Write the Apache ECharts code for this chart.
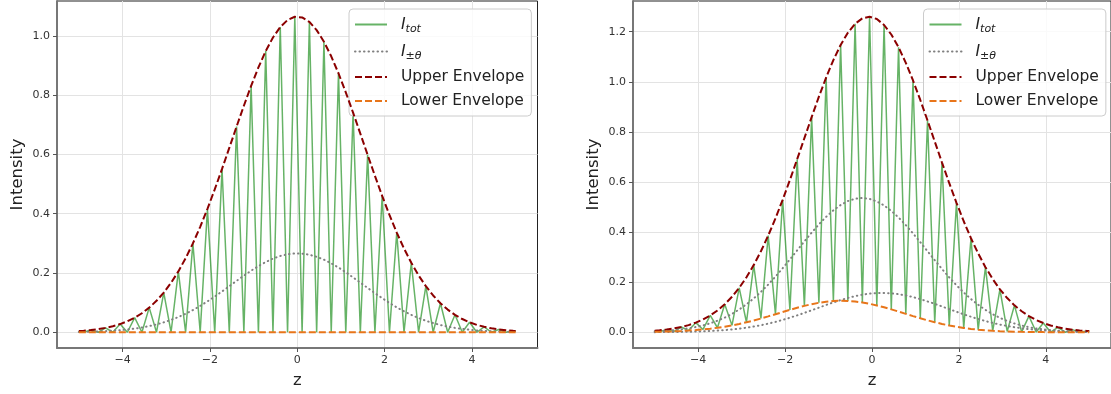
<!DOCTYPE html>
<html><head><meta charset="utf-8">
<script src="https://cdn.jsdelivr.net/npm/echarts@6/dist/echarts.min.js"></script>
<style>html,body{margin:0;padding:0;background:#fff}#c{width:1111px;height:394px}</style>
</head><body><div id="c"></div>
<script>
// ---- data ----
const zValues = [-5, -4.889, -4.722, -4.556, -4.389, -4.222, -4.056, -3.889, -3.722, -3.556, -3.389, -3.222, -3.056, -2.889, -2.722, -2.556, -2.389, -2.222, -2.056, -1.889, -1.722, -1.556, -1.389, -1.222, -1.056, -0.889, -0.722, -0.556, -0.389, -0.222, -0.056, 0.111, 0.278, 0.444, 0.611, 0.778, 0.944, 1.111, 1.278, 1.444, 1.611, 1.778, 1.944, 2.111, 2.278, 2.444, 2.611, 2.778, 2.944, 3.111, 3.278, 3.444, 3.611, 3.778, 3.944, 4.111, 4.278, 4.444, 4.611, 4.778, 4.944, 5];

const leftTotal = [0.0031, 0, 0.0075, 0, 0.0147, 0, 0.0275, 0, 0.0490, 0, 0.0830, 0, 0.1337, 0, 0.2052, 0, 0.2997, 0, 0.4163, 0, 0.5510, 0, 0.6937, 0, 0.8312, 0, 0.9485, 0, 1.0297, 0, 1.0643, 0, 1.0469, 0, 0.9802, 0, 0.8737, 0, 0.7409, 0, 0.5983, 0, 0.4599, 0, 0.3362, 0, 0.2342, 0, 0.1552, 0, 0.0978, 0, 0.0587, 0, 0.0335, 0, 0.0182, 0, 0.0094, 0, 0.0047, 0.0031];
const leftTheta = [0.00103, 0.00131, 0.00188, 0.00264, 0.00368, 0.00506, 0.00687, 0.00923, 0.01225, 0.01602, 0.02073, 0.02648, 0.03338, 0.04163, 0.05126, 0.06232, 0.07485, 0.08879, 0.10398, 0.12037, 0.13763, 0.15532, 0.17327, 0.19088, 0.20761, 0.22315, 0.2369, 0.24834, 0.2572, 0.2631, 0.26581, 0.26528, 0.26148, 0.25459, 0.24483, 0.23251, 0.21823, 0.20219, 0.18506, 0.16734, 0.14944, 0.13178, 0.11486, 0.09882, 0.08398, 0.07054, 0.05849, 0.04788, 0.03876, 0.03096, 0.02442, 0.01905, 0.01466, 0.01115, 0.00838, 0.00622, 0.00455, 0.0033, 0.00236, 0.00167, 0.00116, 0.00103];
const leftUpper = [0.0041, 0.0053, 0.0075, 0.0106, 0.0147, 0.0203, 0.0275, 0.0370, 0.0490, 0.0641, 0.0830, 0.1060, 0.1337, 0.1667, 0.2052, 0.2495, 0.2997, 0.3555, 0.4163, 0.4819, 0.5510, 0.6219, 0.6937, 0.7642, 0.8312, 0.8934, 0.9485, 0.9943, 1.0297, 1.0534, 1.0643, 1.0621, 1.0469, 1.0193, 0.9802, 0.9309, 0.8737, 0.8095, 0.7409, 0.6700, 0.5983, 0.5276, 0.4599, 0.3956, 0.3362, 0.2824, 0.2342, 0.1917, 0.1552, 0.1240, 0.0978, 0.0763, 0.0587, 0.0446, 0.0335, 0.0249, 0.0182, 0.0132, 0.0094, 0.0067, 0.0047, 0.0041];
const leftLower = [0, 0, 0, 0, 0, 0, 0, 0, 0, 0, 0, 0, 0, 0, 0, 0, 0, 0, 0, 0, 0, 0, 0, 0, 0, 0, 0, 0, 0, 0, 0, 0, 0, 0, 0, 0, 0, 0, 0, 0, 0, 0, 0, 0, 0, 0, 0, 0, 0, 0, 0, 0, 0, 0, 0, 0, 0, 0, 0, 0, 0, 0];

const rightTotal = [0.0049, 0.00194, 0.01077, 0.00365, 0.02078, 0.00653, 0.03819, 0.01108, 0.06694, 0.01784, 0.11156, 0.02734, 0.17706, 0.03972, 0.26797, 0.05479, 0.38572, 0.07179, 0.52872, 0.08919, 0.69078, 0.10511, 0.85875, 0.11753, 1.01675, 0.12452, 1.14687, 0.12503, 1.23152, 0.11888, 1.25944, 0.10701, 1.22656, 0.09113, 1.13772, 0.07330, 1.00507, 0.05572, 0.84515, 0.03995, 0.67718, 0.02695, 0.51677, 0.01711, 0.37524, 0.01019, 0.25973, 0.00567, 0.17123, 0.00294, 0.10735, 0.00142, 0.06420, 0.00063, 0.03656, 0.00025, 0.01980, 0.00009, 0.01023, 0.00003, 0.00503, 0.0033];
const rightThetaPlus = [0.00341, 0.00431, 0.00605, 0.00838, 0.01148, 0.01553, 0.02072, 0.02735, 0.03567, 0.04586, 0.05835, 0.07331, 0.09086, 0.11138, 0.13484, 0.16107, 0.19024, 0.22192, 0.25547, 0.29075, 0.32682, 0.36261, 0.39764, 0.43070, 0.46057, 0.48666, 0.50790, 0.52347, 0.53297, 0.53597, 0.53238, 0.52230, 0.50609, 0.48451, 0.45803, 0.42764, 0.39457, 0.35941, 0.32335, 0.28754, 0.25238, 0.21878, 0.18751, 0.15858, 0.13247, 0.10942, 0.08916, 0.07177, 0.05713, 0.04486, 0.03479, 0.02669, 0.02020, 0.01509, 0.01116, 0.00814, 0.00586, 0.00418, 0.00293, 0.00204, 0.00140, 0.00123];
const rightThetaMinus = [0.00036, 0.00046, 0.00068, 0.00097, 0.00137, 0.00192, 0.00265, 0.00362, 0.00488, 0.00649, 0.00855, 0.01111, 0.01425, 0.01807, 0.02264, 0.02797, 0.03419, 0.04127, 0.04915, 0.05787, 0.06731, 0.07727, 0.08768, 0.09825, 0.10870, 0.11885, 0.12834, 0.13684, 0.14416, 0.15001, 0.15414, 0.15648, 0.15690, 0.15539, 0.15199, 0.14684, 0.14016, 0.13210, 0.12298, 0.11313, 0.10275, 0.09216, 0.08171, 0.07151, 0.06181, 0.05282, 0.04454, 0.03709, 0.03055, 0.02482, 0.01991, 0.01581, 0.01238, 0.00957, 0.00732, 0.00552, 0.00412, 0.00303, 0.00221, 0.00158, 0.00112, 0.00100];
const rightUpper = [0.00599, 0.00760, 0.01077, 0.01503, 0.02078, 0.02836, 0.03819, 0.05087, 0.06694, 0.08687, 0.11156, 0.14150, 0.17706, 0.21916, 0.26797, 0.32328, 0.38572, 0.45457, 0.52872, 0.60806, 0.69078, 0.77465, 0.85875, 0.94038, 1.01675, 1.08649, 1.14687, 1.19559, 1.23152, 1.25308, 1.25944, 1.25055, 1.22656, 1.18867, 1.13772, 1.07566, 1.00507, 0.92731, 0.84515, 0.76140, 0.67718, 0.59493, 0.51677, 0.44306, 0.37524, 0.31427, 0.25973, 0.21205, 0.17123, 0.13641, 0.10735, 0.08358, 0.06420, 0.04870, 0.03656, 0.02707, 0.01980, 0.01433, 0.01023, 0.00721, 0.00503, 0.00444];
const rightLower = [0.00156, 0.00194, 0.00268, 0.00365, 0.00492, 0.00653, 0.00855, 0.01108, 0.01416, 0.01784, 0.02223, 0.02734, 0.03315, 0.03972, 0.04699, 0.05479, 0.06313, 0.07179, 0.08051, 0.08919, 0.09749, 0.10511, 0.11188, 0.11753, 0.12177, 0.12452, 0.12561, 0.12503, 0.12275, 0.11888, 0.11359, 0.10701, 0.09941, 0.09113, 0.08232, 0.07330, 0.06440, 0.05572, 0.04751, 0.03995, 0.03306, 0.02695, 0.02166, 0.01711, 0.01331, 0.01019, 0.00767, 0.00567, 0.00413, 0.00294, 0.00206, 0.00142, 0.00095, 0.00063, 0.00040, 0.00025, 0.00015, 0.00009, 0.00005, 0.00003, 0.00001, 0.00001];

const xTicks = [-4, -2, 0, 2, 4];
const yTicksLeft = [0, 0.2, 0.4, 0.6, 0.8, 1.0];
const yTicksRight = [0, 0.2, 0.4, 0.6, 0.8, 1.0, 1.2];
const seriesNames = ['I_tot', 'I_theta', 'Upper Envelope', 'Lower Envelope'];

// ---- chart ----
const F = 'DejaVu Sans';
const chart = echarts.init(document.getElementById('c'), null, {renderer: 'canvas'});

const styles = {
  'I_tot': {color: 'rgba(0,128,0,0.6)', width: 1.5, type: 'solid'},
  'I_theta': {color: '#808080', width: 2, type: [0.5, 4], cap: 'round'},
  'Upper Envelope': {color: '#8b0000', width: 2, type: [7, 3]},
  'Lower Envelope': {color: '#e8751a', width: 2, type: [7, 3]}
};
function mk(name, gi, arr, z) {
  const st = styles[name];
  return {
    type: 'line', name: name, xAxisIndex: gi, yAxisIndex: gi,
    data: zValues.map((v, i) => [v, arr[i]]),
    symbol: 'none', showSymbol: false, smooth: false, silent: true,
    color: st.color, itemStyle: {color: st.color},
    lineStyle: st, z: z, animation: false
  };
}
function xAx(gi) {
  return {
    type: 'value', gridIndex: gi, min: -5.5, max: 5.5,
    name: 'z', nameLocation: 'middle', nameGap: 24,
    nameTextStyle: {fontSize: 16.5, color: '#222', fontFamily: F},
    axisLine: {show: true, onZero: false, lineStyle: {color: '#777', width: 2}},
    axisTick: {show: true, length: 4, customValues: xTicks, lineStyle: {color: '#555', width: 1}},
    axisLabel: {customValues: xTicks, fontSize: 11, color: '#333', fontFamily: F, margin: 7,
      formatter: v => String(v).replace('-', '\u2212')},
    splitLine: {show: true, lineStyle: {color: '#e3e3e3', width: 1}}
  };
}
function yAx(gi, mn, mx, ticks) {
  return {
    type: 'value', gridIndex: gi, min: mn, max: mx,
    name: 'Intensity', nameLocation: 'middle', nameGap: 31, nameRotate: 90,
    nameTextStyle: {fontSize: 16.5, color: '#222', fontFamily: F},
    axisLine: {show: true, onZero: false, lineStyle: {color: '#777', width: 2}},
    axisTick: {show: true, length: 4, customValues: ticks, lineStyle: {color: '#555', width: 1}},
    axisLabel: {customValues: ticks, fontSize: 11, color: '#333', fontFamily: F, margin: 7,
      formatter: v => v.toFixed(1)},
    splitLine: {show: true, lineStyle: {color: '#e3e3e3', width: 1}}
  };
}
const labelMap = {
  'I_tot': '{g| }{it|I}{sub|tot}',
  'I_theta': '{g| }{it|I}{subn|\u00b1}{sub|\u03b8}',
  'Upper Envelope': '{g| }{t|Upper Envelope}',
  'Lower Envelope': '{g| }{t|Lower Envelope}'
};
const rich = {
  g: {width: 9, fontSize: 10, lineHeight: 18},
  it: {fontStyle: 'italic', fontSize: 15.5, lineHeight: 18, fontFamily: F, color: '#222'},
  t: {fontSize: 15.5, lineHeight: 18, fontFamily: F, color: '#222'},
  sub: {fontStyle: 'italic', fontSize: 11, lineHeight: 8, padding: [10, 0, 0, 0], fontFamily: F, color: '#222'},
  subn: {fontSize: 11, lineHeight: 8, padding: [10, 0, 0, 0], fontFamily: F, color: '#222'}
};
function lg(left) {
  return {
    left: left, top: 9, orient: 'vertical', data: seriesNames, selectedMode: false,
    itemWidth: 32, itemHeight: 18, itemGap: 6,
    itemStyle: {opacity: 0, borderWidth: 0},
    padding: [5, 7, 6, 5],
    backgroundColor: 'rgba(255,255,255,0.8)', borderColor: '#cccccc', borderWidth: 1, borderRadius: 4,
    textStyle: {fontFamily: F, fontSize: 15.5, lineHeight: 18, color: '#222', rich: rich},
    formatter: n => labelMap[n]
  };
}

chart.setOption({
  animation: false,
  backgroundColor: '#ffffff',
  grid: [
    {left: 57, top: 1, width: 480.5, height: 347, show: true, borderColor: '#222', borderWidth: 1, containLabel: false},
    {left: 633, top: 1, width: 480, height: 347.5, show: true, borderColor: '#222', borderWidth: 1, containLabel: false}
  ],
  xAxis: [xAx(0), xAx(1)],
  yAxis: [yAx(0, -0.0532, 1.1175, yTicksLeft), yAx(1, -0.063, 1.3224, yTicksRight)],
  legend: [lg(349), lg(923.5)],
  series: [
    mk('I_tot', 0, leftTotal, 2),
    mk('I_theta', 0, leftTheta, 3),
    mk('Upper Envelope', 0, leftUpper, 4),
    mk('Lower Envelope', 0, leftLower, 5),
    mk('I_tot', 1, rightTotal, 2),
    mk('I_theta', 1, rightThetaPlus, 3),
    mk('I_theta', 1, rightThetaMinus, 3),
    mk('Upper Envelope', 1, rightUpper, 4),
    mk('Lower Envelope', 1, rightLower, 5)
  ]
});
</script></body></html>
